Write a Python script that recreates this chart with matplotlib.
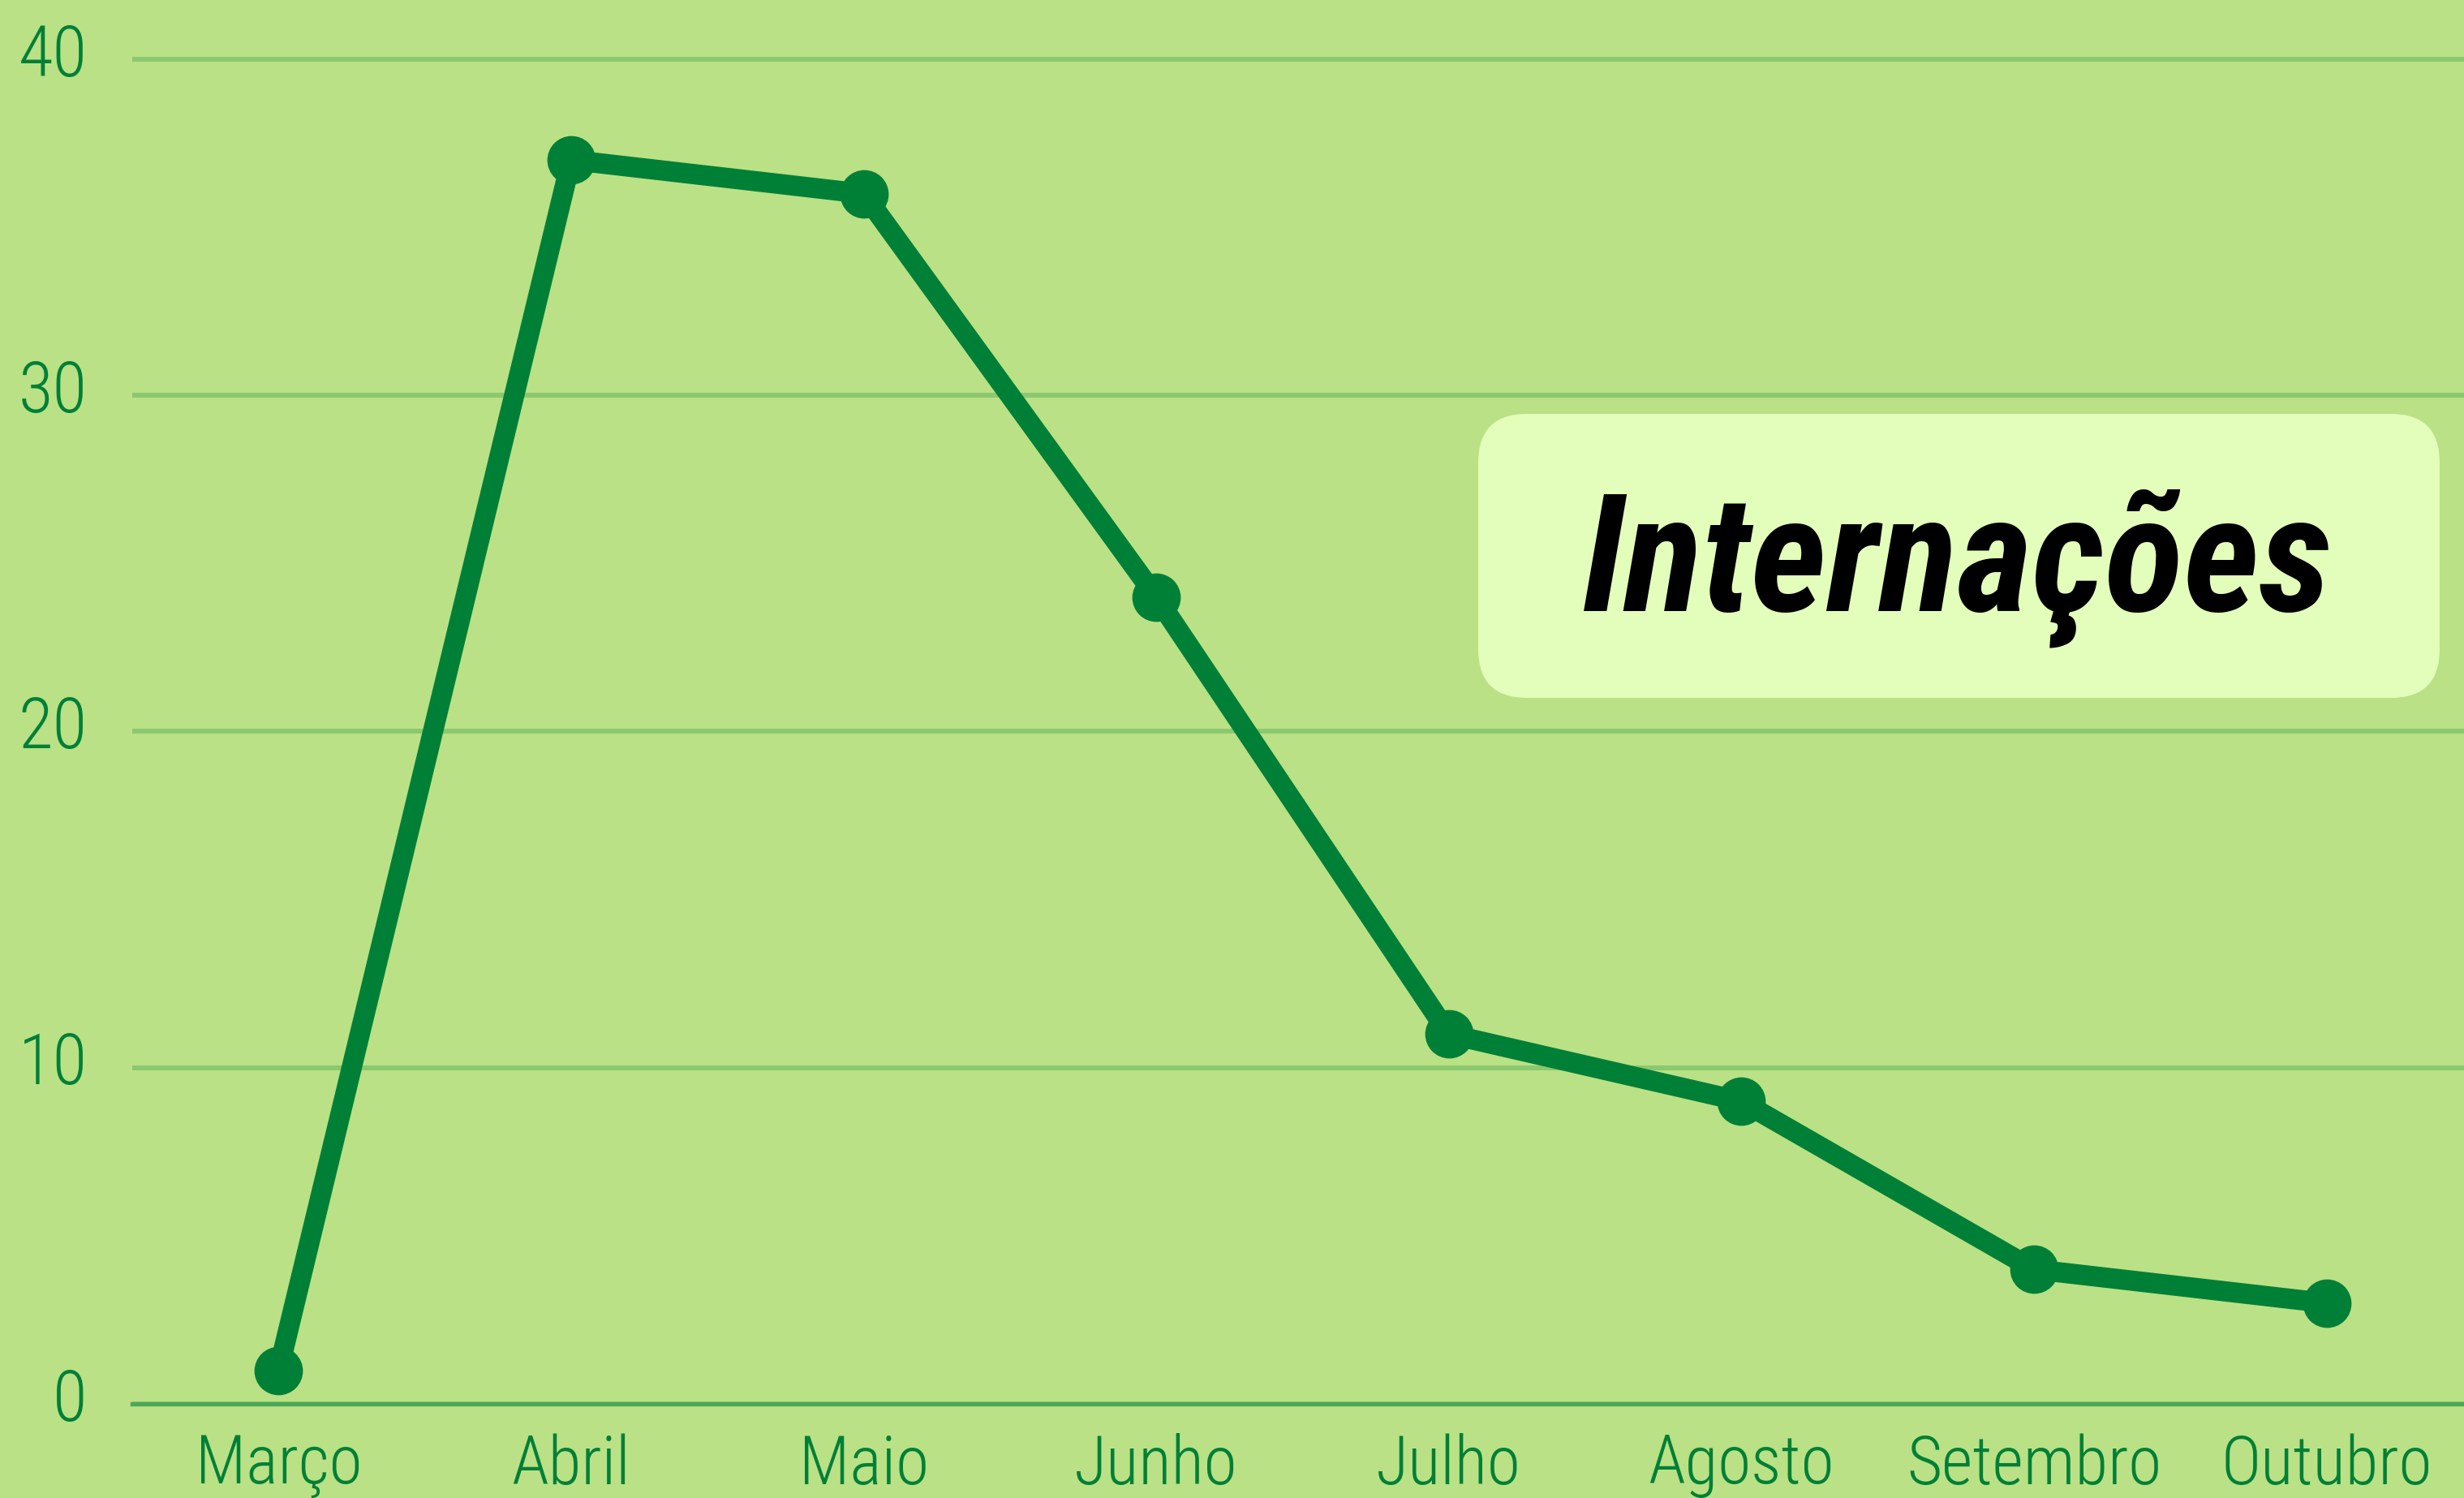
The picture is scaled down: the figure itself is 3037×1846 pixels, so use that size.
import matplotlib
matplotlib.use('Agg')
import matplotlib.pyplot as plt
from matplotlib.patches import FancyBboxPatch
from matplotlib.transforms import ScaledTranslation

meses = ['Março', 'Abril', 'Maio', 'Junho', 'Julho', 'Agosto', 'Setembro', 'Outubro']
internacoes = [1, 37, 36, 24, 11, 9, 4, 3]
y_ticks = [0, 10, 20, 30, 40]

bg = '#bae185'
verde = '#008037'
fonte = ['Roboto Condensed', 'Roboto', 'DejaVu Sans']

fig = plt.figure(figsize=(30.37, 18.46), dpi=100, facecolor=bg)
ax = fig.add_axes([163 / 3037, 116 / 1846, 1 - 163 / 3037, 1730 / 1846])
ax.set_facecolor(bg)

ax.plot(range(len(meses)), internacoes, color=verde, lw=18, marker='o',
        markersize=42, solid_joinstyle='round', zorder=3)

ax.set_xlim(-0.5, 7.47)
ax.set_ylim(0, 41.76)
ax.set_yticks(y_ticks)
ax.set_xticks(range(len(meses)))
ax.set_xticklabels(meses)
ax.grid(axis='y', color='#8cc870', lw=4.3)
ax.set_axisbelow(True)
for s in ['top', 'right', 'left']:
    ax.spines[s].set_visible(False)
ax.spines['bottom'].set_color('#4ca858')
ax.spines['bottom'].set_linewidth(3.8)
ax.spines['bottom'].set_zorder(2)

ax.tick_params(axis='x', length=0, pad=26, labelsize=60, labelcolor=verde)
ax.tick_params(axis='y', length=0, pad=40, labelsize=63, labelcolor=verde)
for lab in ax.get_xticklabels() + ax.get_yticklabels():
    lab.set_fontfamily(fonte)
    lab.set_fontweight('light')
for lab in ax.get_yticklabels():
    lab.set_transform(lab.get_transform() + ScaledTranslation(0, 0.12, fig.dpi_scale_trans))

# caixa do titulo
caixa = FancyBboxPatch((18.22, 9.86), 11.85, 3.50, boxstyle='round,pad=0,rounding_size=0.6',
                       transform=fig.dpi_scale_trans, facecolor='#e3fdba', edgecolor='none', zorder=5)
fig.patches.append(caixa)
fig.text(24.12, 10.93, 'Internações', transform=fig.dpi_scale_trans, ha='center', va='baseline',
         fontsize=145, fontweight='bold', fontstyle='italic', family=fonte, color='black', zorder=6)

plt.savefig('out.png', dpi=100, facecolor=bg)
